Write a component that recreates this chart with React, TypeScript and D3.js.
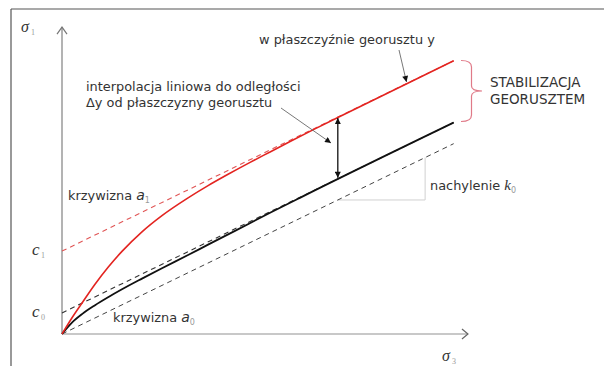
import React from 'react';
import * as d3 from 'd3';

// curve a1 (with geogrid, red) – sigma3 vs sigma1
const redCurveX = [0, 0.25, 0.5, 0.8, 1.13, 1.47, 1.96, 2.45, 3.09, 3.58, 4.07, 4.61, 5.1, 5.59, 6.15, 6.81, 9.6];
const redCurveY = [0, 0.54, 1.03, 1.61, 2.18, 2.7, 3.34, 3.87, 4.45, 4.85, 5.22, 5.61, 5.95, 6.29, 6.67, 7.11, 8.93];
// curve a0 (no geogrid, black)
const blackCurveX = [0, 0.25, 0.49, 0.81, 1.13, 1.47, 1.96, 2.45, 3.09, 3.58, 4.24, 5.1, 5.83, 9.6];
const blackCurveY = [0, 0.38, 0.65, 0.94, 1.2, 1.46, 1.81, 2.15, 2.58, 2.92, 3.37, 3.96, 4.45, 6.91];
// asymptotes
const redAsymX = [0, 9.6];
const redAsymY = [2.71, 8.93];
const blackAsymX = [0, 9.6];
const blackAsymY = [0.69, 6.91];
const lowerLineX = [0, 9.6];
const lowerLineY = [0, 6.22];
// interpolation arrow between the two lines
const interpX = 6.76;
const interpTop = 7.09;
const interpBottom = 5.07;
// slope triangle on lower line (k0)
const slopeX = [6.76, 8.9];
const slopeY = [4.38, 5.77];
// intercept labels
const interceptLabels = [
  { name: 'c', sub: '1', value: 2.71 },
  { name: 'c', sub: '0', value: 0.69 },
];

const W = 604;
const H = 366;

export default function App() {
  const x = d3.scaleLinear().domain([0, 10]).range([62, 470]);
  const y = d3.scaleLinear().domain([0, 10]).range([334, 28]);

  const line = d3
    .line<[number, number]>()
    .x((d) => x(d[0]))
    .y((d) => y(d[1]));
  const curve = d3
    .line<[number, number]>()
    .x((d) => x(d[0]))
    .y((d) => y(d[1]))
    .curve(d3.curveMonotoneX);

  const zip = (a: number[], b: number[]) => a.map((v, i) => [v, b[i]] as [number, number]);

  const font = 'DejaVu Sans, Verdana, sans-serif';
  const txt = '#333';
  const fs = 12.9;

  const ax0 = x(0);
  const ay0 = y(0);
  const axEnd = x(9.95);
  const ayEnd = y(10.03);

  return (
    <svg
      width={W}
      height={H}
      style={{ position: 'absolute', left: 0, top: 0, background: '#fff' }}
      fontFamily={font}
    >
      <defs>
        <marker id="ah" viewBox="0 0 10 10" refX="10" refY="5" markerWidth="7" markerHeight="6" orient="auto-start-reverse" markerUnits="userSpaceOnUse">
          <path d="M0,0 L10,5 L0,10 z" fill="#111" />
        </marker>
      </defs>
      <rect x={0} y={0} width={W} height={H} fill="#fff" />
      {/* frame */}
      <line x1={11} y1={9} x2={W} y2={9} stroke="#555" strokeWidth={1.2} />
      <line x1={11} y1={9} x2={11} y2={H} stroke="#555" strokeWidth={1.2} />

      {/* axes */}
      <line x1={ax0} y1={ay0} x2={ax0} y2={ayEnd} stroke="#9a9a9a" strokeWidth={1.5} />
      <path d={`M${ax0 - 5},${ayEnd + 7} L${ax0},${ayEnd} L${ax0 + 5},${ayEnd + 7}`} fill="none" stroke="#777" strokeWidth={1.2} />
      <line x1={ax0} y1={ay0} x2={axEnd} y2={ay0} stroke="#c8c8c8" strokeWidth={2} />
      <path d={`M${axEnd - 6},${ay0 - 5} L${axEnd},${ay0} L${axEnd - 6},${ay0 + 5}`} fill="none" stroke="#666" strokeWidth={1.2} />

      {/* slope triangle */}
      <path
        d={`M${x(slopeX[0])},${y(slopeY[0])} L${x(slopeX[1])},${y(slopeY[0])} L${x(slopeX[1])},${y(slopeY[1])}`}
        fill="none"
        stroke="#d0d0d0"
        strokeWidth={1}
      />

      {/* lower dashed line */}
      <path d={line(zip(lowerLineX, lowerLineY)) || ''} fill="none" stroke="#444" strokeWidth={1} strokeDasharray="5,4" />
      {/* black asymptote */}
      <path d={line(zip(blackAsymX, blackAsymY)) || ''} fill="none" stroke="#333" strokeWidth={1.1} strokeDasharray="5,4" />
      {/* red asymptote */}
      <path d={line(zip(redAsymX, redAsymY)) || ''} fill="none" stroke="#e05555" strokeWidth={1.1} strokeDasharray="5,4" />
      {/* curves */}
      <path d={curve(zip(blackCurveX, blackCurveY)) || ''} fill="none" stroke="#111" strokeWidth={1.8} />
      <path d={curve(zip(redCurveX, redCurveY)) || ''} fill="none" stroke="#e32420" strokeWidth={1.6} />

      {/* interpolation double arrow */}
      <line
        x1={x(interpX)}
        y1={y(interpTop) + 1}
        x2={x(interpX)}
        y2={y(interpBottom) - 1}
        stroke="#111"
        strokeWidth={1.3}
        markerStart="url(#ah)"
        markerEnd="url(#ah)"
      />

      {/* leader arrows */}
      <line x1={281} y1={108} x2={331} y2={143} stroke="#555" strokeWidth={0.8} markerEnd="url(#ah)" />
      <line x1={399} y1={50} x2={406.5} y2={82} stroke="#555" strokeWidth={0.8} markerEnd="url(#ah)" />

      {/* bracket */}
      <path
        d="M461,60.5 Q471.5,60.5 471.5,67 L471.5,86 Q471.5,91 482,91 Q471.5,91 471.5,96 L471.5,115 Q471.5,121.5 461,121.5"
        fill="none"
        stroke="#e07a88"
        strokeWidth={1.2}
      />

      {/* texts */}
      <text x={259} y={44} fontSize={fs} fill={txt}>w płaszczyźnie georusztu y</text>
      <text x={86} y={91} fontSize={fs} fill={txt}>interpolacja liniowa do odległości</text>
      <text x={86} y={107} fontSize={fs} fill={txt}>Δy od płaszczyzny georusztu</text>
      <text x={490} y={87} fontSize={13.5} fill={txt}>STABILIZACJA</text>
      <text x={490} y={104} fontSize={13.5} fill={txt}>GEORUSZTEM</text>
      <text x={430} y={190} fontSize={fs} fill={txt}>
        nachylenie <tspan fontStyle="italic" fontFamily="Liberation Serif, serif" fontSize={15}>k</tspan>
        <tspan fontSize={8} fill="#999" dy={3}>0</tspan>
      </text>
      <text x={68} y={200} fontSize={fs} fill={txt}>
        krzywizna <tspan fontStyle="italic" fontSize={14}>a</tspan>
        <tspan fontSize={8} fill="#999" dy={3}>1</tspan>
      </text>
      <text x={113} y={322} fontSize={fs} fill={txt}>
        krzywizna <tspan fontStyle="italic" fontSize={14}>a</tspan>
        <tspan fontSize={8} fill="#999" dy={3}>0</tspan>
      </text>

      {/* axis labels */}
      <text x={21} y={32} fontSize={16} fill="#333" fontFamily="Liberation Serif, serif" fontStyle="italic">σ</text>
      <text x={31} y={35} fontSize={8} fill="#999" fontFamily="Liberation Serif, serif">1</text>
      <text x={442} y={361} fontSize={16} fill="#333" fontFamily="Liberation Serif, serif" fontStyle="italic">σ</text>
      <text x={452} y={364} fontSize={8} fill="#999" fontFamily="Liberation Serif, serif">3</text>

      {interceptLabels.map((d) => (
        <g key={d.sub}>
          <text x={32} y={y(d.value) + 4} fontSize={17} fill="#333" fontFamily="Liberation Serif, serif" fontStyle="italic">{d.name}</text>
          <text x={41} y={y(d.value) + 7} fontSize={8} fill="#999" fontFamily="Liberation Serif, serif">{d.sub}</text>
        </g>
      ))}
    </svg>
  );
}
